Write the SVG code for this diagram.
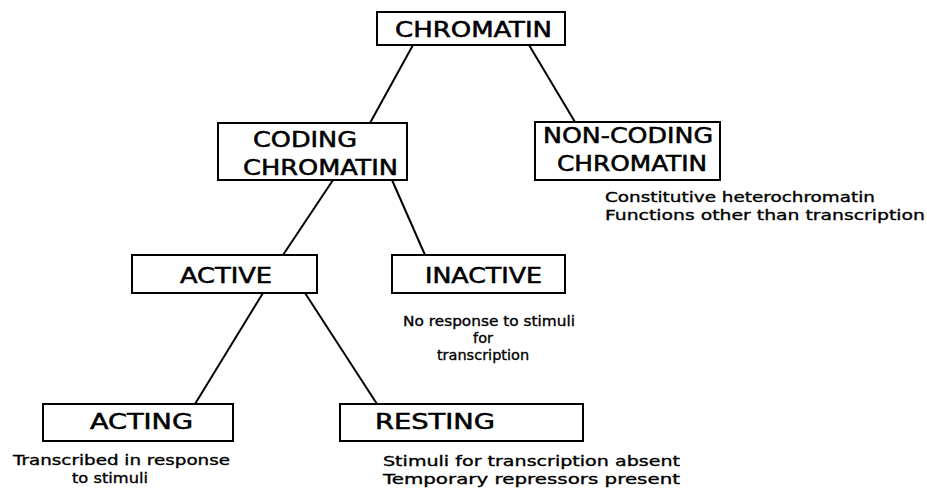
<svg xmlns="http://www.w3.org/2000/svg" width="927" height="491" viewBox="0 0 927 491">
<style>
.box{fill:#fff;stroke:#000;stroke-width:2}
.lbl{font-family:"DejaVu Sans Condensed","DejaVu Sans","Liberation Sans",sans-serif;font-size:22px;fill:#000;stroke:#000;stroke-width:0.5}
.note{font-family:"DejaVu Sans","Liberation Sans",sans-serif;font-size:14.5px;fill:#000;stroke:#000;stroke-width:0.35}
.edge{stroke:#000;stroke-width:2;fill:none}
</style>
<rect width="927" height="491" fill="#fff"/>
<g id="connectors">
<line class="edge" x1="413" y1="45" x2="370" y2="123"/>
<line class="edge" x1="529" y1="45" x2="575" y2="122"/>
<line class="edge" x1="333" y1="180" x2="283" y2="255"/>
<line class="edge" x1="392" y1="180" x2="425" y2="255"/>
<line class="edge" x1="263" y1="293" x2="195" y2="404"/>
<line class="edge" x1="305" y1="293" x2="377" y2="404"/>
</g>
<g id="chromatin">
<rect class="box" x="377" y="12" width="188" height="33"/>
<text class="lbl" x="395" y="37" textLength="157" lengthAdjust="spacingAndGlyphs">CHROMATIN</text>
</g>
<g id="coding">
<rect class="box" x="218" y="123" width="189" height="57"/>
<text class="lbl" x="253" y="147" textLength="104" lengthAdjust="spacingAndGlyphs">CODING</text>
<text class="lbl" x="243" y="175" textLength="155" lengthAdjust="spacingAndGlyphs">CHROMATIN</text>
</g>
<g id="noncoding">
<rect class="box" x="535" y="122" width="185" height="58"/>
<text class="lbl" x="543" y="143" textLength="170" lengthAdjust="spacingAndGlyphs">NON-CODING</text>
<text class="lbl" x="557" y="171" textLength="150" lengthAdjust="spacingAndGlyphs">CHROMATIN</text>
<text class="note" x="605" y="202" textLength="270" lengthAdjust="spacingAndGlyphs">Constitutive heterochromatin</text>
<text class="note" x="605" y="220" textLength="320" lengthAdjust="spacingAndGlyphs">Functions other than transcription</text>
</g>
<g id="active">
<rect class="box" x="132" y="255" width="185" height="38"/>
<text class="lbl" x="180" y="283" textLength="92" lengthAdjust="spacingAndGlyphs">ACTIVE</text>
</g>
<g id="inactive">
<rect class="box" x="392" y="255" width="173" height="38"/>
<text class="lbl" x="425" y="283" textLength="117" lengthAdjust="spacingAndGlyphs">INACTIVE</text>
<text class="note" x="403" y="326" textLength="172" lengthAdjust="spacingAndGlyphs">No response to stimuli</text>
<text class="note" x="483" y="343" text-anchor="middle">for</text>
<text class="note" x="483" y="360" text-anchor="middle">transcription</text>
</g>
<g id="acting">
<rect class="box" x="43" y="404" width="190" height="37"/>
<text class="lbl" x="90" y="429" textLength="103" lengthAdjust="spacingAndGlyphs">ACTING</text>
<text class="note" x="13" y="465" textLength="217" lengthAdjust="spacingAndGlyphs">Transcribed in response</text>
<text class="note" x="72" y="483" textLength="76" lengthAdjust="spacingAndGlyphs">to stimuli</text>
</g>
<g id="resting">
<rect class="box" x="340" y="404" width="243" height="37"/>
<text class="lbl" x="375" y="429" textLength="120" lengthAdjust="spacingAndGlyphs">RESTING</text>
<text class="note" x="383" y="466" textLength="297" lengthAdjust="spacingAndGlyphs">Stimuli for transcription absent</text>
<text class="note" x="383" y="484" textLength="297" lengthAdjust="spacingAndGlyphs">Temporary repressors present</text>
</g>
</svg>
